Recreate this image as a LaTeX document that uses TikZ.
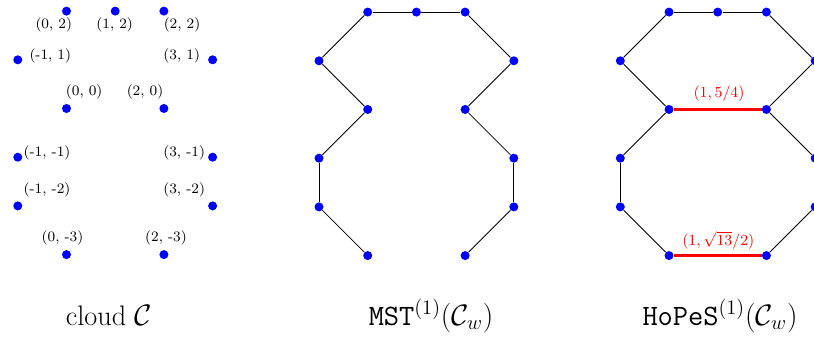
\documentclass[tikz,border=0pt]{standalone}
\usepackage{amsmath}
\begin{document}
\begin{tikzpicture}[x=1cm,y=1cm,
  dot/.style={circle,fill=blue,draw=none,inner sep=0pt,minimum size=0.185cm},
  edge/.style={black,line width=0.5pt},
  hedge/.style={red,line width=1.5pt},
  lbl/.style={font=\fontsize{8.4}{10}\selectfont,inner sep=0pt,anchor=center},
  rlbl/.style={font=\fontsize{8.9}{10}\selectfont,inner sep=0pt,anchor=center,text=red},
  captxt/.style={font=\fontsize{16.5}{20}\selectfont,inner sep=0pt,anchor=base}]
\useasboundingbox (-1.3655,-4.733) rectangle (15.349,2.228);
% points of the three panels
\foreach \p/\sx/\sy in {c/0/0, m/6.185/-0.02, h/12.372/-0.02}{
  \foreach \n/\x/\y in {a/0/2, b/1/2, c/2/2, d/-1/1, e/3/1, f/0/0, g/2/0,
                        h/-1/-1, i/3/-1, j/-1/-2, k/3/-2, l/0/-3, m/2/-3}{
    \node[dot] (\p-\n) at (\sx+\x,\sy+\y) {};
  }
}
% MST and HoPeS edges
\foreach \p in {m,h}{
  \foreach \u/\v in {a/b, b/c, a/d, d/f, f/h, h/j, j/l, c/e, e/g, g/i, i/k, k/m}{
    \draw[edge] (\p-\u) -- (\p-\v);
  }
}
\draw[hedge] (h-f) -- (h-g);
\draw[hedge] (h-l) -- (h-m);
% red labels
\node[rlbl] (r1) at (13.399,0.313) {$(1,5/4)$};
\node[rlbl] (r2) at (13.385,-2.70) {$(1,\sqrt{13}/2)$};
% cloud labels
\node[lbl] (l-a) at (-0.261,1.715) {(0, 2)};
\node[lbl] (l-b) at (0.990,1.715) {(1, 2)};
\node[lbl] (l-c) at (2.372,1.715) {(2, 2)};
\node[lbl] (l-d) at (-0.333,1.078) {(-1, 1)};
\node[lbl] (l-e) at (2.366,1.078) {(3, 1)};
\node[lbl] (l-f) at (0.363,0.345) {(0, 0)};
\node[lbl] (l-g) at (1.612,0.345) {(2, 0)};
\node[lbl] (l-h) at (-0.400,-0.920) {(-1, -1)};
\node[lbl] (l-i) at (2.417,-0.920) {(3, -1)};
\node[lbl] (l-j) at (-0.400,-1.673) {(-1, -2)};
\node[lbl] (l-k) at (2.417,-1.673) {(3, -2)};
\node[lbl] (l-l) at (-0.082,-2.665) {(0, -3)};
\node[lbl] (l-m) at (2.043,-2.665) {(2, -3)};
% captions
\node[captxt] (cap1) at (0.873,-4.446) {cloud $\mathcal{C}$};
\node[captxt] (cap2) at (7.485,-4.446) {$\mathtt{MST}^{(1)}(\mathcal{C}_w)$};
\node[captxt] (cap3) at (13.419,-4.446) {$\mathtt{HoPeS}^{(1)}(\mathcal{C}_w)$};
\end{tikzpicture}
\end{document}
